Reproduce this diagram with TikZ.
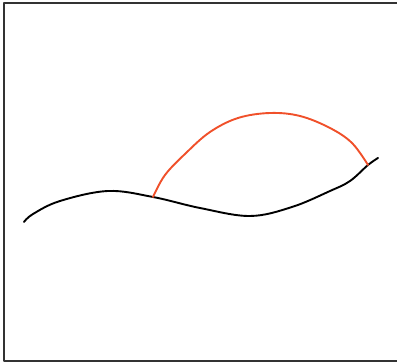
\documentclass[tikz,border=0pt]{standalone}
\begin{document}
\begin{tikzpicture}[x=1pt,y=-1pt,line cap=round,line join=round]
      \useasboundingbox (0,0) rectangle (397,363);
      \definecolor{branch}{RGB}{240,80,42}
      \draw[gray!40!black,line width=1.3pt] (397,3) -- (4,3) -- (4,361) -- (397,361);
      \coordinate (start) at (24,222);
      \coordinate (fork) at (153,197);
      \coordinate (join) at (368,165);
      \coordinate (end) at (378,158);
      \draw[line width=1.9pt] plot[smooth,tension=.6] coordinates {(start) (33,214) (60,201) (108,191) (fork) (200,208) (250,216) (292,207) (330,191) (350,181) (join) (end)};
      \draw[branch,line width=1.9pt] plot[smooth,tension=.6] coordinates {(fork) (165,175) (186,153) (210,132) (238,118) (270,113) (300,116) (330,128) (352,143) (join)};
    \end{tikzpicture}
\end{document}
